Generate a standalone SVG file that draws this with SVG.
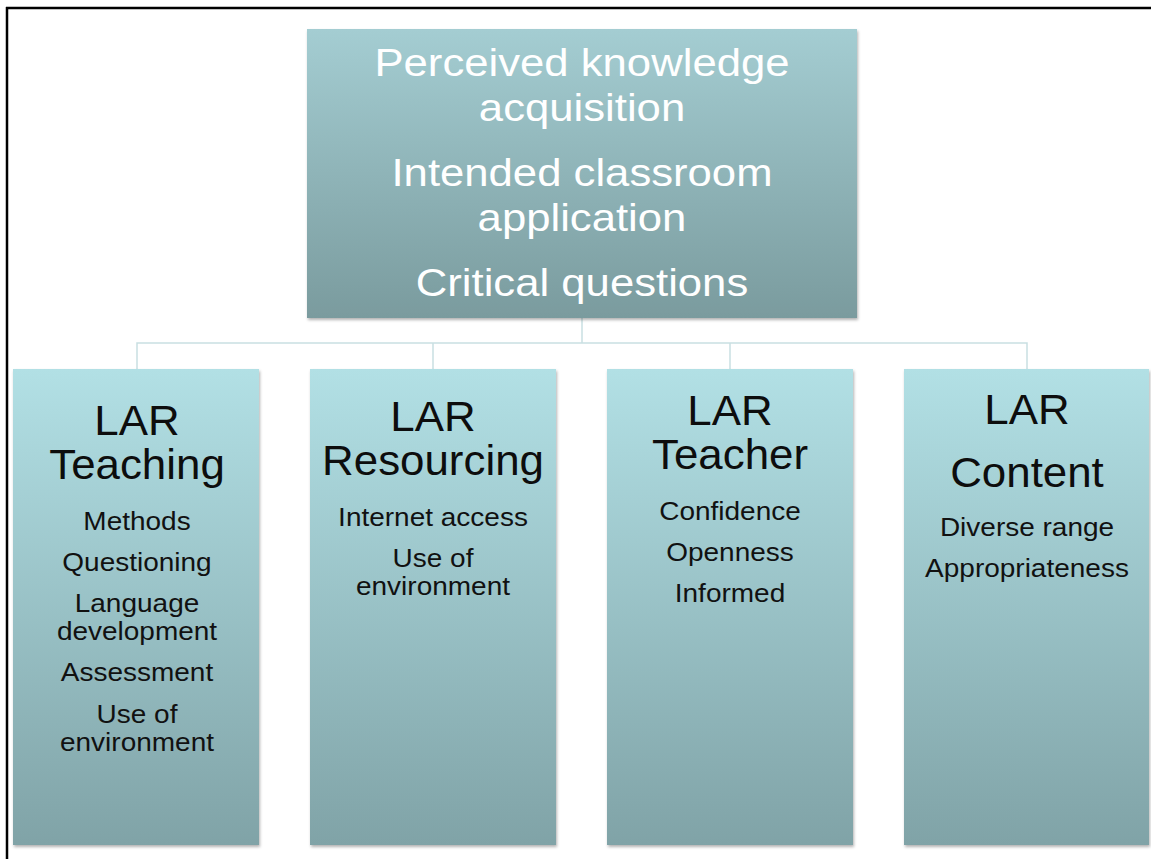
<svg xmlns="http://www.w3.org/2000/svg" width="1151" height="859" viewBox="0 0 1151 859">
  <defs>
    <linearGradient id="gTop" x1="0" y1="0" x2="0" y2="1">
      <stop offset="0" stop-color="#a4cdd2"/>
      <stop offset="1" stop-color="#7a9b9e"/>
    </linearGradient>
    <linearGradient id="gBox" x1="0" y1="0" x2="0" y2="1">
      <stop offset="0" stop-color="#b2e0e5"/>
      <stop offset="1" stop-color="#80a3a7"/>
    </linearGradient>
    <filter id="sh" x="-5%" y="-5%" width="110%" height="110%">
      <feDropShadow dx="1" dy="2" stdDeviation="1.5" flood-color="#000" flood-opacity="0.3"/>
    </filter>
    <style>
      .top { font-family: "Liberation Sans", Arial, sans-serif; font-size: 39px; fill: #ffffff; text-anchor: middle; }
      .head { font-family: "Liberation Sans", Arial, sans-serif; font-size: 43px; fill: #0d0d0d; text-anchor: middle; }
      .item { font-family: "Liberation Sans", Arial, sans-serif; font-size: 25px; fill: #111111; text-anchor: middle; }
      .conn { stroke: #c9dfe2; stroke-width: 1.5; fill: none; }
    </style>
  </defs>
  <rect x="0" y="0" width="1151" height="859" fill="#ffffff"/>
  <g id="frame">
    <line x1="6" y1="8" x2="1151" y2="8" stroke="#000" stroke-width="2.5"/>
    <line x1="7" y1="7" x2="7" y2="859" stroke="#000" stroke-width="2.5"/>
  </g>
  <g id="connectors">
    <path class="conn" d="M582 318 V343"/>
    <path class="conn" d="M137 370 V343 H1027 V370"/>
    <path class="conn" d="M433 343 V370"/>
    <path class="conn" d="M730 343 V370"/>
  </g>
  <g id="node-top">
    <rect x="307" y="29" width="550" height="289" fill="url(#gTop)" filter="url(#sh)"/>
    <g transform="translate(582,0) scale(1.12,1)">
      <text class="top" x="0" y="76">Perceived knowledge</text>
      <text class="top" x="0" y="121">acquisition</text>
      <text class="top" x="0" y="186">Intended classroom</text>
      <text class="top" x="0" y="231">application</text>
      <text class="top" x="0" y="296">Critical questions</text>
    </g>
  </g>
  <g id="node-teaching">
    <rect x="13" y="369" width="246" height="476" fill="url(#gBox)" filter="url(#sh)"/>
    <g transform="translate(137,0) scale(1.02,1)">
      <text class="head" x="0" y="435">LAR</text>
      <text class="head" x="0" y="479">Teaching</text>
    </g>
    <g transform="translate(137,0) scale(1.12,1)">
      <text class="item" x="0" y="530">Methods</text>
      <text class="item" x="0" y="571">Questioning</text>
      <text class="item" x="0" y="612">Language</text>
      <text class="item" x="0" y="640">development</text>
      <text class="item" x="0" y="681">Assessment</text>
      <text class="item" x="0" y="723">Use of</text>
      <text class="item" x="0" y="751">environment</text>
    </g>
  </g>
  <g id="node-resourcing">
    <rect x="310" y="369" width="246" height="476" fill="url(#gBox)" filter="url(#sh)"/>
    <g transform="translate(433,0) scale(1.02,1)">
      <text class="head" x="0" y="431">LAR</text>
      <text class="head" x="0" y="475">Resourcing</text>
    </g>
    <g transform="translate(433,0) scale(1.12,1)">
      <text class="item" x="0" y="526">Internet access</text>
      <text class="item" x="0" y="567">Use of</text>
      <text class="item" x="0" y="595">environment</text>
    </g>
  </g>
  <g id="node-teacher">
    <rect x="607" y="369" width="246" height="476" fill="url(#gBox)" filter="url(#sh)"/>
    <g transform="translate(730,0) scale(1.02,1)">
      <text class="head" x="0" y="425">LAR</text>
      <text class="head" x="0" y="469">Teacher</text>
    </g>
    <g transform="translate(730,0) scale(1.12,1)">
      <text class="item" x="0" y="520">Confidence</text>
      <text class="item" x="0" y="561">Openness</text>
      <text class="item" x="0" y="602">Informed</text>
    </g>
  </g>
  <g id="node-content">
    <rect x="904" y="369" width="245" height="476" fill="url(#gBox)" filter="url(#sh)"/>
    <g transform="translate(1027,0) scale(1.02,1)">
      <text class="head" x="0" y="424">LAR</text>
      <text class="head" x="0" y="487">Content</text>
    </g>
    <g transform="translate(1027,0) scale(1.12,1)">
      <text class="item" x="0" y="536">Diverse range</text>
      <text class="item" x="0" y="577">Appropriateness</text>
    </g>
  </g>
</svg>
